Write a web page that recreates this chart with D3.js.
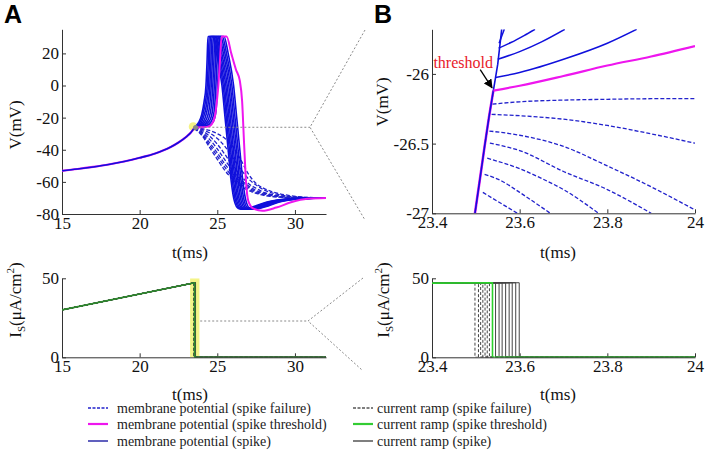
<!DOCTYPE html>
<html><head><meta charset="utf-8">
<script src="https://cdn.jsdelivr.net/npm/d3@7/dist/d3.min.js"></script>
<style>
html,body{margin:0;padding:0;background:#fff;}
svg{font-family:"Liberation Serif","Times New Roman",serif;}
</style></head>
<body><svg id="c" width="705" height="475"></svg>
<script>
// ---------------- DATA ----------------
// Panel A (top): membrane potential, t in ms, V in mV
const aXTicks = [15, 20, 25, 30];
const aYTicks = [-80, -60, -40, -20, 0, 20];
const bXTicks = [23.4, 23.6, 23.8, 24];
const bXTickLabels = ["23.4", "23.6", "23.8", "24"];
const bYTicks = [-27, -26.5, -26];
const bYTickLabels = ["-27", "-26.5", "-26"];
const iYTicks = [0, 50];

const aBaseline = [[15,-53.1],[16,-52],[17,-50.7],[18,-49.2],[19,-47.3],[20,-45],[21,-42.3],[21.5,-40.5],[22,-38.3],[22.5,-35.5],[23,-32],[23.3,-29.3],[23.5,-26.7],[23.56,-25.9]];

const aSpike0 = [[23.56,-25.9],[23.8,-23],[24.0,-18],[24.15,-10],[24.27,0],[24.34,15],[24.4,30.5],[24.68,30.5],[24.95,20],[25.3,0],[25.5,-20],[25.7,-40],[25.9,-60],[26.1,-72],[26.35,-76.5],[26.7,-77],[27.3,-75.5],[28.2,-72.5],[29.3,-70.8],[30.5,-70.2],[32,-70]];
const aSpike1 = [[23.56,-25.9],[23.85,-23.5],[24.05,-19],[24.22,-11],[24.35,0],[24.42,15],[24.48,30.5],[24.76,30.5],[25.03,20],[25.38,0],[25.58,-20],[25.78,-40],[25.98,-60],[26.18,-72],[26.43,-76.5],[26.78,-77],[27.4,-75.5],[28.3,-72.5],[29.4,-70.8],[30.6,-70.2],[32,-70]];
const aSpike2 = [[23.56,-25.9],[23.9,-24],[24.1,-20],[24.3,-12],[24.43,0],[24.5,15],[24.56,30.5],[24.84,30.5],[25.11,20],[25.46,0],[25.66,-20],[25.86,-40],[26.06,-60],[26.26,-72],[26.51,-76.5],[26.86,-77],[27.5,-75.5],[28.4,-72.5],[29.5,-70.8],[30.7,-70.2],[32,-70]];
const aSpike3 = [[23.56,-25.95],[23.95,-24.3],[24.2,-20.5],[24.4,-12],[24.52,0],[24.59,15],[24.65,30.5],[24.93,30.5],[25.2,20],[25.55,0],[25.75,-20],[25.95,-40],[26.15,-60],[26.35,-72],[26.6,-76.5],[26.95,-77],[27.6,-75.5],[28.5,-72.5],[29.6,-70.8],[30.8,-70.2],[32,-70]];
const aSpike4 = [[23.56,-25.95],[24.0,-24.5],[24.3,-21],[24.5,-13],[24.61,0],[24.68,15],[24.74,30.5],[25.02,30.5],[25.29,20],[25.64,0],[25.84,-20],[26.04,-40],[26.24,-60],[26.44,-72],[26.69,-76.5],[27.04,-77],[27.7,-75.5],[28.6,-72.5],[29.7,-70.8],[30.9,-70.2],[32,-70]];
const aSpike5 = [[23.56,-26],[24.05,-24.8],[24.4,-21.5],[24.6,-14],[24.71,0],[24.78,15],[24.84,30.5],[25.12,30.5],[25.39,20],[25.74,0],[25.94,-20],[26.14,-40],[26.34,-60],[26.54,-72],[26.79,-76.5],[27.14,-77],[27.8,-75.5],[28.7,-72.5],[29.8,-70.8],[31,-70.2],[32,-70]];
const aSpike6 = [[23.56,-26],[24.1,-25],[24.5,-22],[24.7,-15],[24.81,0],[24.88,15],[24.94,30.5],[25.22,30.5],[25.49,20],[25.84,0],[26.04,-20],[26.24,-40],[26.44,-60],[26.64,-72],[26.89,-76.5],[27.24,-77],[27.9,-75.5],[28.8,-72.5],[29.9,-70.8],[31.1,-70.2],[32,-70]];
const aSpike7 = [[23.56,-26],[24.2,-25.2],[24.6,-22.5],[24.8,-16],[24.91,0],[24.98,15],[25.04,30.5],[25.32,30.5],[25.59,20],[25.94,0],[26.14,-20],[26.34,-40],[26.54,-60],[26.74,-72],[26.99,-76.5],[27.34,-77],[28.0,-75.5],[28.9,-72.5],[30,-70.8],[31.2,-70.2],[32,-70]];
const aSpike8 = [[23.56,-26],[24.3,-25.2],[24.7,-23],[24.9,-17],[25.02,0],[25.09,15],[25.15,30.5],[25.43,30.5],[25.7,20],[26.05,0],[26.25,-20],[26.45,-40],[26.65,-60],[26.85,-72],[27.1,-76.5],[27.45,-77],[28.1,-75.5],[29.0,-72.5],[30.1,-70.8],[31.3,-70.2],[32,-70]];
const aThreshold = [[23.54,-26.1],[24.0,-26],[24.4,-25.6],[24.65,-24],[24.85,-19],[24.97,-10],[25.07,0],[25.17,15],[25.28,30.5],[25.6,30.5],[25.9,20],[26.2,10],[26.45,3],[26.6,-10],[26.72,-35],[26.85,-60],[27.0,-72],[27.3,-76.5],[27.9,-78],[28.8,-76],[29.8,-72.5],[30.8,-70.5],[32,-70]];
const aFail0 = [[23.54,-26.2],[24,-26.8],[24.5,-28],[25,-30],[25.5,-33],[26,-38],[26.5,-46],[27,-55],[27.5,-61],[28,-64],[28.5,-66],[29.5,-68.3],[30.5,-69.4],[32,-70]];
const aFail1 = [[23.54,-26.3],[24,-27.3],[24.5,-29.5],[25,-33],[25.5,-38],[26,-45],[26.5,-52],[27,-58],[27.5,-62],[28,-65],[29,-68],[30,-69.3],[32,-70]];
const aFail2 = [[23.53,-26.4],[24,-28],[24.5,-31.5],[25,-36.5],[25.5,-43],[26,-50],[26.5,-56],[27,-61],[27.5,-64],[28,-66.5],[29,-68.6],[30,-69.5],[32,-70]];
const aFail3 = [[23.53,-26.5],[24,-28.8],[24.5,-33.5],[25,-39.5],[25.5,-46.5],[26,-53],[26.5,-58.5],[27,-62.5],[27.5,-65.3],[28,-67],[29,-69],[30,-69.7],[32,-70]];
const aFail4 = [[23.526,-26.6],[24,-29.5],[24.5,-35.5],[25,-42],[25.5,-49],[26,-55],[26.5,-60],[27,-63.5],[27.5,-66],[28,-67.5],[29,-69.2],[30,-69.8],[32,-70]];
const aFail5 = [[23.52,-26.7],[24,-30.3],[24.5,-37],[25,-44],[25.5,-51],[26,-57],[26.5,-61.3],[27,-64.5],[27.5,-66.7],[28,-68],[29,-69.4],[30,-69.9],[32,-70]];
const aFail6 = [[23.516,-26.85],[24,-31],[24.5,-38.5],[25,-46],[25.5,-53],[26,-58.5],[26.5,-62.5],[27,-65.3],[27.5,-67.2],[28,-68.4],[29,-69.5],[30,-70],[32,-70]];

// Panel B (top): zoomed membrane potential
const bRamp = [[23.498,-27],[23.51,-26.74],[23.52,-26.52],[23.53,-26.31],[23.54,-26.12],[23.55,-25.93],[23.559,-25.68]];
const bSpike0 = [[23.553,-25.78],[23.565,-25.68]];
const bSpike1 = [[23.552,-25.815],[23.58,-25.775],[23.61,-25.725],[23.635,-25.68]];
const bSpike2 = [[23.55,-25.895],[23.6,-25.84],[23.65,-25.77],[23.703,-25.68]];
const bSpike3 = [[23.545,-26.026],[23.6,-25.99],[23.707,-25.888],[23.8,-25.78],[23.867,-25.68]];
const bThreshold = [[23.54,-26.12],[23.6,-26.085],[23.7,-26.015],[23.8,-25.94],[23.9,-25.875],[24,-25.80]];
const bFail1 = [[23.538,-26.217],[23.6,-26.2],[23.7,-26.188],[23.8,-26.182],[23.9,-26.178],[24,-26.177]];
const bFail2 = [[23.536,-26.29],[23.6,-26.30],[23.7,-26.325],[23.8,-26.37],[23.9,-26.43],[24,-26.497]];
const bFail3 = [[23.531,-26.41],[23.6,-26.44],[23.7,-26.52],[23.8,-26.66],[23.9,-26.81],[24,-26.976]];
const bFail4 = [[23.532,-26.497],[23.6,-26.55],[23.7,-26.70],[23.8,-26.83],[23.9,-27.0]];
const bFail5 = [[23.526,-26.605],[23.6,-26.68],[23.65,-26.75],[23.7,-26.83],[23.78,-27]];
const bFail6 = [[23.52,-26.72],[23.56,-26.77],[23.6,-26.85],[23.67,-27.0]];
const bFail7 = [[23.516,-26.85],[23.558,-26.93],[23.595,-27.0]];

// Current ramps (bottom panels), I in uA/cm2
const rampStart = [15, 30];
const rampTopLevel = 47.2;
const rampEndT = 32;
const offFailure = [23.498, 23.506, 23.511, 23.516, 23.521, 23.526, 23.531];
const offThreshold = 23.538;
const offSpike = [23.545, 23.553, 23.560, 23.568, 23.576, 23.583, 23.591, 23.599];

const legendLeft = ["membrane potential (spike failure)", "membrane potential (spike threshold)", "membrane potential (spike)"];
const legendRight = ["current ramp (spike failure)", "current ramp (spike threshold)", "current ramp (spike)"];

// ---------------- DRAW ----------------
const svg = d3.select("#c");
const SERIF = '"Liberation Serif","Times New Roman",serif';
const SANS = '"Liberation Sans",Arial,sans-serif';
const C = {blue:"#1010dc", blueDash:"#2222cc", mag:"#ee16ee", green:"#2e8b2e", greenB:"#2bd12b", gray:"#444", axis:"#333"};

function makeAxes(id, xDom, xR, yDom, yR, xT, xL, yT, yL) {
  const x = d3.scaleLinear().domain(xDom).range(xR);
  const y = d3.scaleLinear().domain(yDom).range(yR);
  svg.append("clipPath").attr("id", id).append("rect")
    .attr("x", xR[0]).attr("y", yR[1]).attr("width", xR[1]-xR[0]).attr("height", yR[0]-yR[1]);
  const g = svg.append("g");
  const plot = svg.append("g").attr("clip-path", `url(#${id})`);
  const ax = d3.axisBottom(x).tickValues(xT).tickSizeInner(-4).tickSizeOuter(0).tickPadding(3)
     .tickFormat((d,i)=> xL ? xL[i] : d);
  const ay = d3.axisLeft(y).tickValues(yT).tickSizeInner(-4).tickSizeOuter(0).tickPadding(3)
     .tickFormat((d,i)=> yL ? yL[i] : d);
  const gx = g.append("g").attr("transform", `translate(0,${yR[0]})`).call(ax);
  const gy = g.append("g").attr("transform", `translate(${xR[0]},0)`).call(ay);
  [gx, gy].forEach(a => {
    a.attr("font-family", null).attr("font-size", null);
    a.selectAll("path,line").attr("stroke", C.axis);
    a.selectAll("text").style("font-family", SERIF).style("font-size", "17px").attr("fill", "#111");
  });
  return {x, y, plot, g};
}

const A1 = makeAxes("cA1", [15,32], [62,326], [-80,35], [214,29.3], aXTicks, null, aYTicks, null);
const B1 = makeAxes("cB1", [23.4,24], [432,695], [-27,-25.68], [213.3,29.3], bXTicks, bXTickLabels, bYTicks, bYTickLabels);
const A2 = makeAxes("cA2", [15,32], [62,326], [0,50], [357.3,278.3], aXTicks, null, iYTicks, null);
const B2 = makeAxes("cB2", [23.4,24], [432,695], [0,50], [357.3,278.3], bXTicks, bXTickLabels, iYTicks, null);

function line(P, data, color, w, dash, curve) {
  const l = d3.line().x(d=>P.x(d[0])).y(d=>P.y(d[1])).curve(curve || d3.curveMonotoneX);
  P.plot.append("path").attr("d", l(data)).attr("fill","none").attr("stroke",color)
    .attr("stroke-width", w).attr("stroke-dasharray", dash || null).attr("stroke-linejoin","round");
}

// Annotations (dotted zoom guides, highlights)
const guide = (pts) => svg.append("polyline").attr("points", pts.map(p=>p.join(",")).join(" "))
  .attr("fill","none").attr("stroke","#8a8a8a").attr("stroke-width",1).attr("stroke-dasharray","2,2");
guide([[A1.x(23.65), A1.y(-26)], [310, A1.y(-26)]]);
guide([[365, 30], [310, A1.y(-26)], [365, 220]]);
guide([[A2.x(23.9), 321], [308, 321]]);
guide([[363, 278], [308, 321], [362, 370]]);

// A top
A1.plot.append("circle").attr("cx", A1.x(23.45)).attr("cy", A1.y(-25.6)).attr("r", 4.5).attr("fill", "#f2f070").attr("opacity", 0.85);
line(A1, aBaseline, C.mag, 2.2);
line(A1, aBaseline, C.blue, 1.6);
[aFail0,aFail1,aFail2,aFail3,aFail4,aFail5,aFail6].forEach(d => line(A1, d, C.blueDash, 1.3, "4,2"));
[aSpike0,aSpike1,aSpike2,aSpike3,aSpike4,aSpike5,aSpike6,aSpike7,aSpike8].forEach(d => line(A1, d, C.blue, 1.6));
line(A1, aThreshold, C.mag, 2);
A1.plot.append("circle").attr("cx", A1.x(23.6)).attr("cy", A1.y(-26.2)).attr("r", 2.5).attr("fill", "#888");

// B top
line(B1, bRamp.filter(d=>d[0] <= 23.54), C.mag, 2.6, null, d3.curveLinear);
[bFail1,bFail2,bFail3,bFail4,bFail5,bFail6,bFail7].forEach(d => line(B1, d, C.blueDash, 1.3, "4,2"));
line(B1, bRamp, C.blue, 1.6, null, d3.curveLinear);
[bSpike0,bSpike1,bSpike2,bSpike3].forEach(d => line(B1, d, C.blue, 1.5));
line(B1, bThreshold, C.mag, 2.2);
svg.append("defs").append("marker").attr("id","arr").attr("viewBox","0 0 10 10").attr("refX",9).attr("refY",5)
  .attr("markerWidth",7).attr("markerHeight",7).attr("orient","auto")
  .append("path").attr("d","M0,0 L10,5 L0,10 z").attr("fill","#000");
svg.append("line").attr("x1", B1.x(23.51)).attr("y1", B1.y(-25.97)).attr("x2", B1.x(23.537)).attr("y2", B1.y(-26.10))
  .attr("stroke","#000").attr("stroke-width",1.3).attr("marker-end","url(#arr)");
svg.append("text").attr("x", B1.x(23.539)).attr("y", B1.y(-25.955)).attr("text-anchor","end")
  .style("font-family", SERIF).style("font-size","16px").attr("fill","#e8202a").text("threshold");

// Current ramps
function rampPts(tOff) { return [rampStart, [tOff, rampTopLevel], [tOff, 0], [rampEndT, 0]]; }
function rampLayer(P, green) {
  offFailure.forEach(t => line(P, rampPts(t), C.gray, 1, "3,2", d3.curveLinear));
  offSpike.forEach(t => line(P, rampPts(t), C.gray, 1, null, d3.curveLinear));
  line(P, rampPts(offThreshold), green, 1.6, null, d3.curveLinear);
}
A2.plot.append("rect").attr("x", A2.x(23.25)).attr("y", A2.y(50)).attr("width", A2.x(23.85)-A2.x(23.25))
  .attr("height", A2.y(0)-A2.y(50)).attr("fill", "#f0f060").attr("opacity", 0.75);
rampLayer(A2, C.green);
rampLayer(B2, C.greenB);

// Axis labels
const lab = (x, y, t, rot) => svg.append("text").attr("transform", `translate(${x},${y})` + (rot ? " rotate(-90)" : ""))
  .attr("text-anchor","middle").style("font-family", SERIF).style("font-size","17px").attr("fill","#111").text(t);
lab(190, 258, "t(ms)"); lab(558, 258, "t(ms)");
lab(190, 400, "t(ms)"); lab(558, 400, "t(ms)");
lab(21, 125, "V(mV)", true); lab(388, 102, "V(mV)", true);
function iLabel(x, y) {
  const t = svg.append("text").attr("transform", `translate(${x},${y}) rotate(-90)`).attr("text-anchor","middle")
    .style("font-family", SERIF).style("font-size","17px").attr("fill","#111");
  t.append("tspan").text("I");
  t.append("tspan").style("font-size","11px").attr("dy",4).text("S");
  t.append("tspan").attr("dy",-4).text("(μA/cm");
  t.append("tspan").style("font-size","11px").attr("dy",-7).text("2");
  t.append("tspan").attr("dy",7).text(")");
}
iLabel(21, 300); iLabel(389, 300);

// Panel letters
svg.append("text").attr("x",4).attr("y",23).style("font-family", SANS).style("font-weight","bold").style("font-size","25px").text("A");
svg.append("text").attr("x",374).attr("y",23).style("font-family", SANS).style("font-weight","bold").style("font-size","25px").text("B");

// Legend
const legY = [408, 424, 441];
const lStyles = [{c:C.blueDash, d:"3,1.5"}, {c:C.mag, d:null, w:2.2}, {c:"#2b2ba8", d:null}];
const rStyles = [{c:"#555", d:"3,1.5"}, {c:"#33cc33", d:null, w:2.2}, {c:"#555", d:null}];
legendLeft.forEach((t,i) => {
  svg.append("line").attr("x1",88).attr("x2",108).attr("y1",legY[i]).attr("y2",legY[i])
    .attr("stroke",lStyles[i].c).attr("stroke-width",lStyles[i].w||1.5).attr("stroke-dasharray",lStyles[i].d);
  svg.append("text").attr("x",117).attr("y",legY[i]+5).style("font-family", SERIF).style("font-size","14px").attr("fill","#222").text(t);
});
legendRight.forEach((t,i) => {
  svg.append("line").attr("x1",353).attr("x2",373).attr("y1",legY[i]).attr("y2",legY[i])
    .attr("stroke",rStyles[i].c).attr("stroke-width",rStyles[i].w||1.5).attr("stroke-dasharray",rStyles[i].d);
  svg.append("text").attr("x",377).attr("y",legY[i]+5).style("font-family", SERIF).style("font-size","14px").attr("fill","#222").text(t);
});
</script></body></html>
